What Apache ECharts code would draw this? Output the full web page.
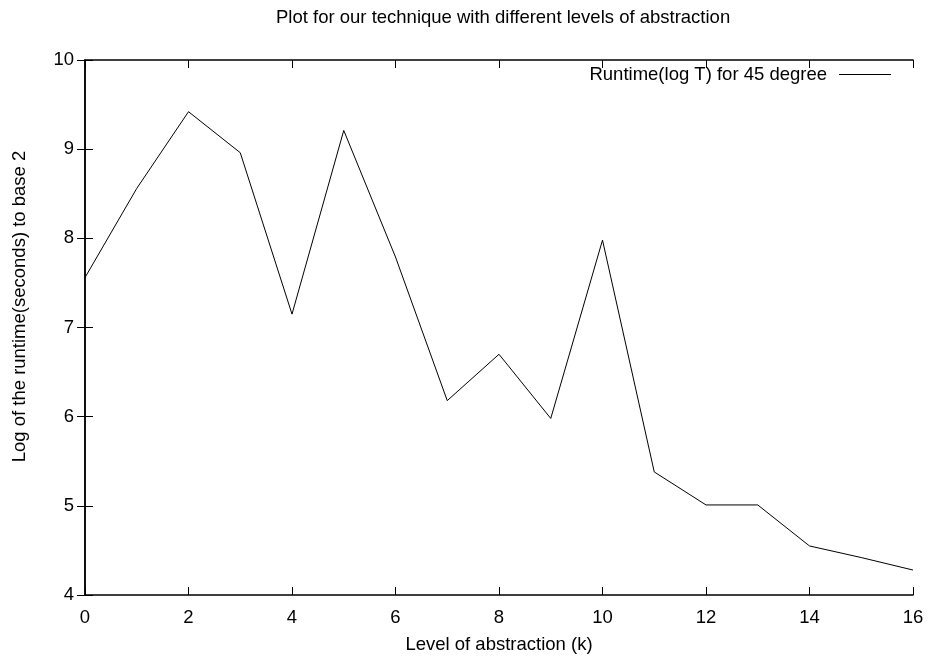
<!DOCTYPE html>
<html>
<head>
<meta charset="utf-8">
<script src="https://cdn.jsdelivr.net/npm/echarts@6/dist/echarts.min.js"></script>
<style>
  html, body { margin: 0; padding: 0; background: #fff; }
  #chart { width: 930px; height: 659px; }
</style>
</head>
<body>
<div id="chart"></div>
<script>
// level of abstraction (k)
const levels = [0, 1, 2, 3, 4, 5, 6, 7, 8, 9, 10, 11, 12, 13, 14, 15, 16];
// log2 runtime for 45 degree
const runtimeLog = [7.56, 8.56, 9.42, 8.96, 7.15, 9.21, 7.79, 6.18, 6.70, 5.98, 7.98, 5.38, 5.01, 5.01, 4.55, 4.42, 4.28];

const FONT = 'Liberation Sans, Arial, sans-serif';
const FS = 18.5;

const frameLine = { show: true, lineStyle: { color: '#000', width: 1.5 } };
const inTick = { show: true, inside: true, length: 8, lineStyle: { color: '#000', width: 1 } };

const chart = echarts.init(document.getElementById('chart'));

const option = {
  animation: false,
  backgroundColor: '#fff',
  textStyle: { fontFamily: FONT },
  title: {
    text: 'Plot for our technique with different levels of abstraction',
    left: 271,
    top: 3,
    textStyle: { fontSize: FS, fontWeight: 'normal', color: '#000', fontFamily: FONT },
  },
  legend: {
    data: ['Runtime(log T) for 45 degree'],
    right: 39,
    top: 65,
    padding: 0,
    align: 'right',
    icon: 'rect',
    itemWidth: 52,
    itemHeight: 1,
    itemStyle: { color: '#000' },
    textStyle: { fontSize: FS, color: '#000', fontFamily: FONT, padding: [0, 7, 0, 0] },
  },
  grid: { left: 85, right: 17, top: 60, bottom: 62 },
  xAxis: [
    {
      type: 'value',
      min: 0,
      max: 16,
      interval: 2,
      position: 'bottom',
      name: 'Level of abstraction (k)',
      nameLocation: 'middle',
      nameGap: 40,
      nameTextStyle: { fontSize: FS, color: '#000', fontFamily: FONT },
      axisLine: frameLine,
      axisTick: inTick,
      axisLabel: { fontSize: FS, color: '#000', margin: 13, fontFamily: FONT },
      splitLine: { show: false },
    },
    {
      // mirrored top border with ticks
      type: 'value',
      min: 0,
      max: 16,
      interval: 2,
      position: 'top',
      axisLine: frameLine,
      axisTick: inTick,
      axisLabel: { show: false },
      splitLine: { show: false },
    },
  ],
  yAxis: [
    {
      type: 'value',
      min: 4,
      max: 10,
      interval: 1,
      position: 'left',
      name: 'Log of the runtime(seconds) to base 2',
      nameLocation: 'middle',
      nameGap: 56,
      nameRotate: 90,
      nameTextStyle: { fontSize: FS, color: '#000', fontFamily: FONT, padding: [0, 0, 0, 42] },
      axisLine: frameLine,
      axisTick: inTick,
      axisLabel: { fontSize: FS, color: '#000', margin: 11, fontFamily: FONT },
      splitLine: { show: false },
    },
    {
      // mirrored right border with ticks
      type: 'value',
      min: 4,
      max: 10,
      interval: 1,
      position: 'right',
      axisLine: frameLine,
      axisTick: inTick,
      axisLabel: { show: false },
      splitLine: { show: false },
    },
  ],
  series: [
    {
      name: 'Runtime(log T) for 45 degree',
      type: 'line',
      xAxisIndex: 0,
      yAxisIndex: 0,
      data: levels.map((k, i) => [k, runtimeLog[i]]),
      symbol: 'none',
      color: '#000',
      lineStyle: { color: '#000', width: 1 },
    },
  ],
};

chart.setOption(option);
</script>
</body>
</html>
